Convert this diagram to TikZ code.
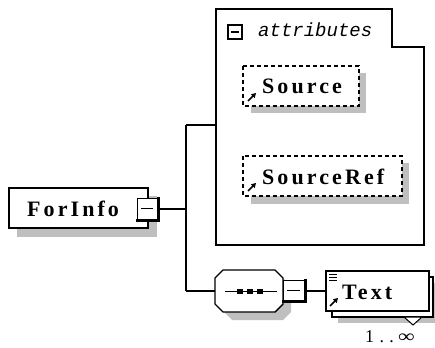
\documentclass[tikz,border=0pt]{standalone}
\usepackage{fontspec}
\newfontfamily\mono{Liberation Mono}
\newfontfamily\lblfont[LetterSpace=14]{Liberation Serif}
\newfontfamily\cardfont[LetterSpace=30]{Liberation Serif}
\usetikzlibrary{calc,arrows.meta}
\tikzset{
  shadowc/.style={fill=black!25,draw=none},
  elem/.style={draw,line width=1.4pt,fill=white},
  attr/.style={draw,dash pattern=on 4pt off 3pt,line width=1.2pt,fill=white},
  lbl/.style={font=\lblfont\bfseries\fontsize{22}{22}\selectfont,inner sep=0pt,anchor=base west},
  conn/.style={line width=1.3pt},
  minusbox/.style={draw,line width=1pt,fill=white},
  icon/.style={line width=1.6pt,-{Triangle[length=4.5pt,width=5pt]}},
}
\begin{document}
\begin{tikzpicture}[x=1pt,y=-1pt]
\useasboundingbox (0,0) rectangle (435,347);
% ForInfo
\fill[shadowc] (17,196) rectangle (157,237);
\draw[elem] (9,188) rectangle (148,228);
\node[lbl] (forinfo) at (27,216) {ForInfo};
\draw[minusbox] (137,198) rectangle (157,219);
\draw[line width=3pt] (158.5,197) -- (158.5,220.5) -- (136,220.5);
\draw[line width=1.2pt] (141,208.5) -- (153,208.5);
\coordinate (fm) at (160,209);
\coordinate (jt) at (186,125);
\coordinate (jb) at (186,291);
\coordinate (jm) at (186,209);
\draw[conn] (fm) -- (jm);
\draw[conn] (jt) -- (jb);
% attributes group
\draw[line width=1.4pt,fill=white] (216,9) -- (392,9) -- (392,47) -- (424,47) -- (424,245) -- (216,245) -- cycle;
\coordinate (attrl) at (216,125);
\draw[conn] (jt) -- (attrl);
\draw[line width=1.8pt] (228,25) rectangle (242,39);
\draw[line width=1.2pt] (231,32) -- (239,32);
\node[font=\mono\itshape\fontsize{19}{19}\selectfont,inner sep=0pt,anchor=base west] (attrs) at (258,37) {attributes};
% Source
\fill[shadowc] (251,73) rectangle (366,113);
\draw[attr] (243,66) rectangle (359,106);
\node[lbl] (source) at (262,94) {Source};
\draw[icon] (248,101) -- (256,93);
% SourceRef
\fill[shadowc] (251,163) rectangle (409,204);
\draw[attr] (243,156) rectangle (402,196);
\node[lbl] (sourceref) at (262,184) {SourceRef};
\draw[icon] (248,191) -- (256,183);
% sequence
\coordinate (seql) at (215,291);
\draw[conn] (jb) -- (seql);
\fill[shadowc] (232,278) -- (283,278) -- (291,286) -- (291,312) -- (283,320) -- (232,320) -- (224,312) -- (224,286) -- cycle;
\draw[elem] (223,270) -- (275,270) -- (283,278) -- (283,304) -- (275,312) -- (223,312) -- (215,304) -- (215,278) -- cycle;
\draw[line width=1pt] (225,291) -- (277,291);
\foreach \xx in {240,250,260} \fill (\xx-3,288.5) rectangle (\xx+3,293.5);
\draw[minusbox] (283,280) rectangle (304,300);
\draw[line width=3pt] (305.5,279) -- (305.5,301.5) -- (282,301.5);
\draw[line width=1.2pt] (287,290.5) -- (300,290.5);
\coordinate (sm) at (307,291);
% Text
\fill[shadowc] (338,283) rectangle (435,323);
\draw[line width=1.4pt,fill=white] (332,277) rectangle (433,317);
\draw[line width=1pt,fill=white] (404,317) -- (422,317) -- (413,325) -- cycle;
\draw[elem] (326,271) rectangle (429,311);
\coordinate (textl) at (326,291);
\draw[conn] (sm) -- (textl);
\foreach \yy in {274.5,277.5,280.5} \draw[line width=0.9pt] (329,\yy) -- (337,\yy);
\node[lbl] (text) at (342,299) {Text};
\draw[icon] (330,306) -- (338,298);
\node[font=\cardfont\fontsize{18}{18}\selectfont,inner sep=0pt,anchor=base west] (card) at (365,342) {1..\hspace{4pt}\scalebox{1.3}[1]{∞}};
\end{tikzpicture}
\end{document}
